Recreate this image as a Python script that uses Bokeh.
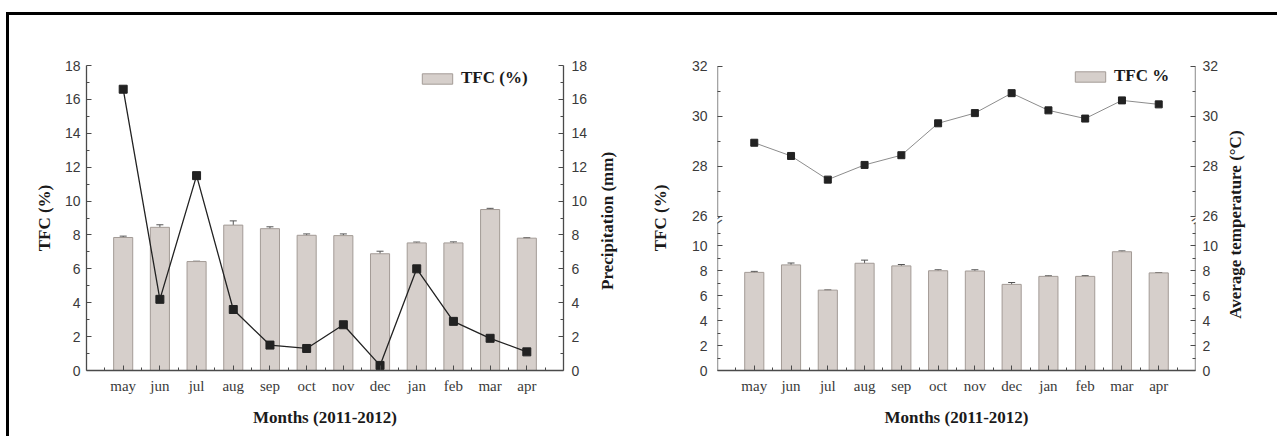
from bokeh.plotting import figure
from bokeh.models import (Range1d, LinearAxis, FixedTicker, Whisker, ColumnDataSource,
                          Label, TeeHead)
from bokeh.layouts import row
from bokeh.embed import file_html
from bokeh.resources import INLINE
import math

# ---------------- data ----------------
months = ["may", "jun", "jul", "aug", "sep", "oct", "nov", "dec", "jan", "feb", "mar", "apr"]
tfc = [7.85, 8.45, 6.43, 8.58, 8.37, 7.98, 7.96, 6.89, 7.53, 7.53, 9.50, 7.81]
tfc_err = [0.08, 0.15, 0.02, 0.25, 0.11, 0.08, 0.10, 0.15, 0.05, 0.06, 0.07, 0.03]
precip = [16.6, 4.2, 11.5, 3.6, 1.5, 1.3, 2.7, 0.3, 6.0, 2.9, 1.9, 1.1]
temp = [28.94, 28.41, 27.46, 28.05, 28.44, 29.72, 30.13, 30.93, 30.24, 29.91, 30.64, 30.48]

tfc_ticks_left = list(range(0, 19, 2))
tfc_ticks_right = list(range(0, 11, 2))
temp_ticks = [26, 28, 30, 32]

x_pos = list(range(1, len(months) + 1))
month_labels = {i: m for i, m in zip(x_pos, months)}

BAR_FILL = "#d6cfcb"
BAR_LINE = "#a39b96"
AX = "#4a4a4a"
XMAX = len(months) + 1
H = 414
LABEL_FONT = "17px"


def style_axis(ax):
    ax.axis_line_color = AX
    ax.axis_line_width = 1.3
    ax.major_tick_in = 5
    ax.major_tick_out = 0
    ax.minor_tick_in = 3
    ax.minor_tick_out = 0
    ax.major_tick_line_color = AX
    ax.minor_tick_line_color = AX
    ax.major_label_text_font = "Liberation Sans"
    ax.major_label_text_font_size = "14px"
    ax.major_label_text_color = "#3a3a3a"
    ax.axis_label_text_font = "Liberation Serif"
    ax.axis_label_text_font_style = "bold"
    ax.axis_label_text_font_size = LABEL_FONT
    ax.axis_label_text_color = "#1a1a1a"


def style_xaxis(p):
    ax = p.xaxis[0]
    style_axis(ax)
    ax.ticker = FixedTicker(ticks=x_pos, minor_ticks=[v - 0.5 for v in x_pos] + [x_pos[-1] + 0.5])
    ax.major_label_overrides = month_labels
    ax.major_label_text_font = "Liberation Serif"
    ax.major_label_text_font_size = "15px"
    ax.major_label_standoff = 7
    ax.axis_label = "Months (2011-2012)"
    ax.axis_label_standoff = 11


def base_fig(width, top, bottom, left, right, y_range):
    p = figure(width=width, height=H, x_range=Range1d(0, XMAX), y_range=y_range,
               output_backend="svg", toolbar_location=None,
               min_border_left=left, min_border_right=right,
               min_border_top=top, min_border_bottom=bottom,
               outline_line_color=None, background_fill_color="white",
               border_fill_color="white")
    p.xgrid.visible = False
    p.ygrid.visible = False
    return p


def label_fig(width, text, x, y):
    """narrow strip holding a rotated (bottom-to-top) axis title"""
    f = figure(width=width, height=H, x_range=Range1d(0, width), y_range=Range1d(0, H),
               output_backend="svg", toolbar_location=None, min_border=0,
               x_axis_location=None, y_axis_location=None,
               outline_line_color=None, border_fill_color="white")
    f.xgrid.visible = False
    f.ygrid.visible = False
    f.add_layout(Label(x=x, y=y, text=text, angle=math.pi / 2,
                       text_align="center", text_baseline="middle",
                       text_font="Liberation Serif", text_font_style="bold",
                       text_font_size=LABEL_FONT, text_color="#1a1a1a"))
    return f


def style_legend(p, loc):
    lg = p.legend[0]
    lg.location = loc
    lg.border_line_color = None
    lg.background_fill_alpha = 0.9
    lg.glyph_width = 38
    lg.glyph_height = 13
    lg.label_height = 18
    lg.label_text_font = "Liberation Serif"
    lg.label_text_font_style = "bold"
    lg.label_text_font_size = LABEL_FONT
    lg.label_text_color = "#1a1a1a"
    lg.padding = 2
    lg.margin = 0
    lg.spacing = 0
    lg.label_standoff = 5


err_src = ColumnDataSource(dict(x=x_pos,
                                upper=[v + e for v, e in zip(tfc, tfc_err)],
                                lower=[v - e for v, e in zip(tfc, tfc_err)]))


def add_bars(p, legend_label):
    p.vbar(x=x_pos, top=tfc, width=0.52, fill_color=BAR_FILL, line_color=BAR_LINE,
           line_width=1, legend_label=legend_label)
    w = Whisker(source=err_src, base="x", upper="upper", lower="lower",
                line_color="#555555", line_width=1,
                upper_head=TeeHead(size=7, line_color="#555555", line_width=1),
                lower_head=TeeHead(size=7, line_color="#555555", line_width=1))
    p.add_layout(w)


# ---------------- left chart: TFC + precipitation ----------------
p1 = base_fig(588, 49, 59, 77, 34, Range1d(0, 18))
p1.extra_y_ranges = {"precip": Range1d(0, 18)}
ly = p1.yaxis[0]
style_axis(ly)
ly.ticker = FixedTicker(ticks=tfc_ticks_left, minor_ticks=[v + 1 for v in tfc_ticks_left[:-1]])
ly.axis_label = "TFC (%)"
ly.major_label_standoff = 6
ly.axis_label_standoff = 8
ry = LinearAxis(y_range_name="precip",
                ticker=FixedTicker(ticks=tfc_ticks_left, minor_ticks=[v + 1 for v in tfc_ticks_left[:-1]]))
style_axis(ry)
ry.major_label_standoff = 8
p1.add_layout(ry, "right")
style_xaxis(p1)

add_bars(p1, "TFC (%)")
p1.line(x_pos, precip, y_range_name="precip", line_color="#222222", line_width=1.3)
p1.scatter(x_pos, precip, y_range_name="precip", marker="square", size=8,
           fill_color="#222222", line_color="#222222")
style_legend(p1, (332, 282))

lab1 = label_fig(43, "Precipitation (mm)", 10, 203)

# ---------------- right chart: TFC + temperature (broken axis) ----------------
Y0, Y1 = 0.0, 24.4          # TFC scale (lower part of the frame)
T0, T1 = 19.8, 32.04        # temperature scale (upper part of the frame)
LOW_TOP = 11.83             # where the lower axis segment stops


def temp_on_main(t):
    return Y0 + (t - T0) * (Y1 - Y0) / (T1 - T0)


p2 = base_fig(582, 50, 57, 77, 27, Range1d(Y0, Y1))
p2.extra_y_ranges = {"temp": Range1d(T0, T1)}

major = tfc_ticks_right + [temp_on_main(t) for t in temp_ticks]
minor = [v + 1 for v in tfc_ticks_right] + [temp_on_main(t + 1) for t in temp_ticks[:-1]]
overrides = {temp_on_main(t): str(t) for t in temp_ticks}

la = p2.yaxis[0]
style_axis(la)
la.ticker = FixedTicker(ticks=major, minor_ticks=minor)
la.major_label_overrides = overrides
la.axis_line_color = None
la.axis_label = "TFC (%)"
la.major_label_standoff = 10
la.axis_label_standoff = 19

ra = LinearAxis(ticker=FixedTicker(ticks=major, minor_ticks=minor))
style_axis(ra)
ra.major_label_overrides = overrides
ra.axis_line_color = None
ra.major_label_standoff = 7
p2.add_layout(ra, "right")

for side, loc in (("left", 0), ("right", XMAX)):
    low_line = LinearAxis(fixed_location=loc, bounds=(0, LOW_TOP),
                          ticker=FixedTicker(ticks=[], minor_ticks=[]))
    style_axis(low_line)
    p2.add_layout(low_line, side)
    up_line = LinearAxis(y_range_name="temp", fixed_location=loc, bounds=(26, 32),
                         ticker=FixedTicker(ticks=[], minor_ticks=[]))
    style_axis(up_line)
    p2.add_layout(up_line, side)
    p2.add_layout(Label(x=loc, y=25.84, y_range_name="temp", text="=", angle=0.6,
                        text_align="center", text_baseline="middle",
                        text_font_size="15px", text_color=AX))

style_xaxis(p2)
add_bars(p2, "TFC %")
p2.line(x_pos, temp, y_range_name="temp", line_color="#8c8c8c", line_width=1)
p2.scatter(x_pos, temp, y_range_name="temp", marker="square", size=7,
           fill_color="#222222", line_color="#222222")
style_legend(p2, (354, 284))

lab2 = label_fig(46, "Average temperature (°C)", 13, 198)

layout = row(p1, lab1, p2, lab2,
             styles={"border-top": "3px solid black", "border-left": "3px solid black",
                     "margin-top": "12px", "margin-left": "6px",
                     "padding-right": "9px", "padding-bottom": "7px"})

open("out.html", "w").write(file_html(layout, INLINE))
